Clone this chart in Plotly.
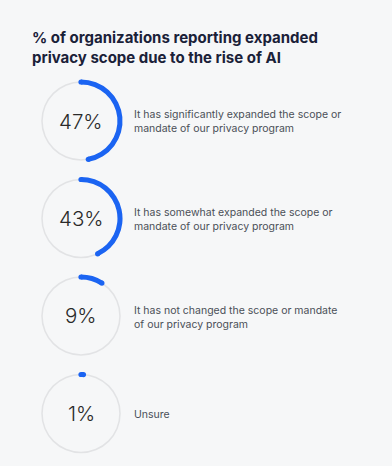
import plotly.graph_objects as go

title_lines = ["% of organizations reporting expanded", "privacy scope due to the rise of AI"]
values = [47, 43, 9, 1]
value_labels = ["47%", "43%", "9%", "1%"]
descriptions = [
    ["It has significantly expanded the scope or", "mandate of our privacy program"],
    ["It has somewhat expanded the scope or", "mandate of our privacy program"],
    ["It has not changed the scope or mandate", "of our privacy program"],
    ["Unsure"],
]

W, H = 392, 466
BG = "#f6f7f8"
BLUE = "#1b64f2"
TRACK = "#e2e3e5"
cx = 81
centers_y = [121, 218.5, 316, 413.5]
R_PX = 39
RMAX = 1.15
dom_r = R_PX * RMAX

fig = go.Figure()
annotations = []
for i, (v, lab, desc, cy) in enumerate(zip(values, value_labels, descriptions, centers_y)):
    pid = "polar" if i == 0 else f"polar{i+1}"
    sub = pid
    span = v * 3.6
    # track
    fig.add_trace(go.Barpolar(r=[0.04], base=[0.98], theta=[180], width=[360],
                              marker=dict(color=TRACK, line=dict(width=0)),
                              subplot=sub, showlegend=False, hoverinfo="skip"))
    # arc
    fig.add_trace(go.Barpolar(r=[0.13], base=[0.935], theta=[span / 2], width=[span],
                              marker=dict(color=BLUE, line=dict(width=0)),
                              subplot=sub, showlegend=False, hoverinfo="skip"))
    # round caps
    fig.add_trace(go.Scatterpolar(r=[1, 1], theta=[0, span], mode="markers",
                                  marker=dict(color=BLUE, size=5.2, line=dict(width=0)),
                                  subplot=sub, showlegend=False, hoverinfo="skip"))
    ypix = H - cy
    fig.update_layout(**{pid: dict(
        domain=dict(x=[(cx - dom_r) / W, (cx + dom_r) / W],
                    y=[(ypix - dom_r) / H, (ypix + dom_r) / H]),
        bgcolor="rgba(0,0,0,0)",
        radialaxis=dict(visible=False, range=[0, RMAX]),
        angularaxis=dict(visible=False, rotation=90, direction="clockwise"),
    )})
    annotations.append(dict(x=cx / W, y=ypix / H, xref="paper", yref="paper",
                            text=lab, showarrow=False, xanchor="center", yanchor="middle",
                            font=dict(family="Inter", size=20.5, color="#2a2a2a", weight=300)))
    annotations.append(dict(x=132 / W, y=(ypix - 1) / H, xref="paper", yref="paper",
                            text="<br>".join(desc), showarrow=False, xanchor="left",
                            yanchor="middle", align="left",
                            font=dict(family="Inter", size=10.5, color="#4a4f57")))

annotations.append(dict(x=30 / W, y=(H - 48) / H, xref="paper", yref="paper",
                        text="<br>".join(title_lines), showarrow=False, xanchor="left",
                        yanchor="middle", align="left",
                        font=dict(family="Inter", size=15, color="#1a2138", weight=700)))

fig.update_layout(width=W, height=H, margin=dict(l=0, r=0, t=0, b=0),
                  paper_bgcolor=BG, plot_bgcolor=BG, annotations=annotations)
fig.write_html("out.html", config={"displayModeBar": False},
               post_script="document.body.style.margin='0';document.body.style.background='#f6f7f8';")
